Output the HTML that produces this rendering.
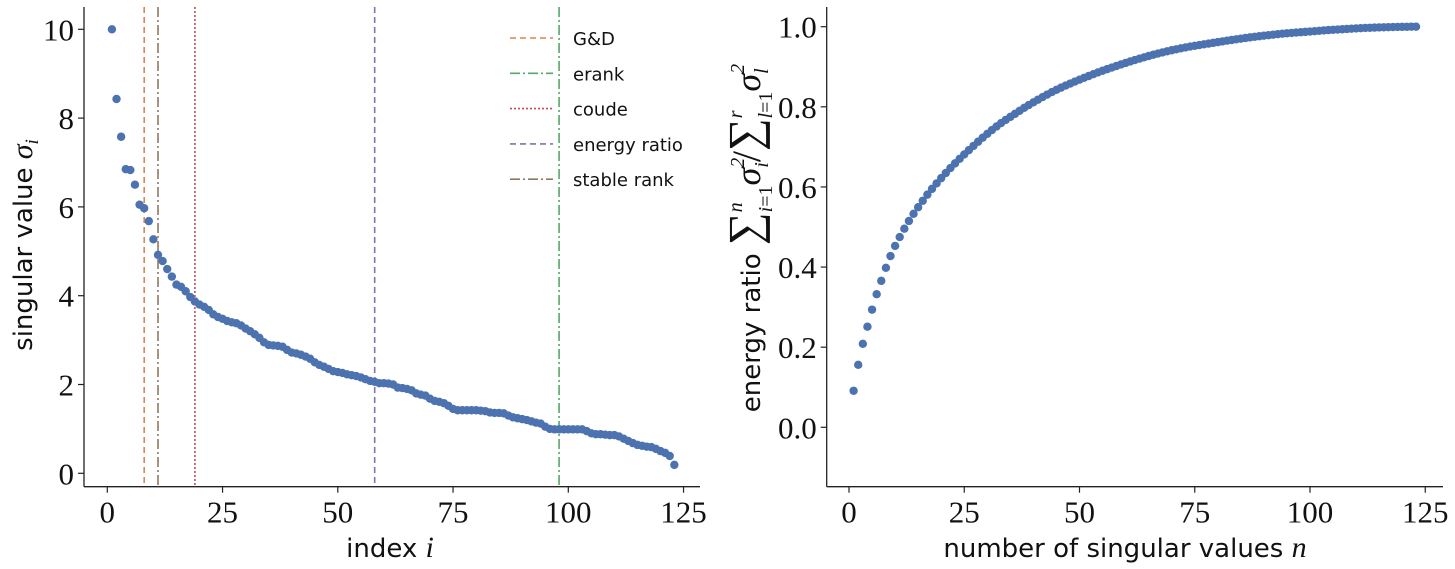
<!DOCTYPE html>
<html><head><meta charset="utf-8"><style>
body{margin:0;background:#fff;}
svg{display:block;}
.tick{font-family:"Liberation Serif",serif;font-size:31px;fill:#111;}
.lab{font-family:"DejaVu Sans","Liberation Sans",sans-serif;font-size:26px;fill:#111;}
.leg{font-family:"DejaVu Sans","Liberation Sans",sans-serif;font-size:18px;fill:#111;}
.m{font-family:"Liberation Serif",serif;font-style:italic;}
</style></head><body>
<svg id="c" width="1455" height="569" xmlns="http://www.w3.org/2000/svg"></svg>
<script>
const sigma=[10,8.43,7.58,6.85,6.83,6.5,6.05,5.97,5.68,5.27,4.92,4.78,4.6,4.43,4.25,4.2,4.1,3.97,3.87,
3.8,3.75,3.68,3.58,3.52,3.48,3.43,3.4,3.38,3.33,3.26,3.2,3.13,3.05,2.95,2.89,2.88,2.87,2.85,2.78,2.72,2.7,2.67,2.63,2.58,2.5,2.44,2.4,2.35,2.3,2.28,2.26,2.23,2.21,2.19,2.16,2.12,2.08,2.06,2.03,2.03,2.02,2.0,
1.93,1.92,1.9,1.87,1.8,1.77,1.75,1.68,1.63,1.61,1.58,1.52,1.45,
1.42,1.42,1.42,1.42,1.42,
1.41,1.4,1.37,1.36,1.36,1.35,1.3,1.26,1.24,1.22,1.2,1.17,1.14,1.12,
1.05,1.0,0.99,0.99,0.99,0.99,0.99,0.99,0.99,
0.95,0.9,0.88,0.88,0.87,0.86,0.86,0.83,0.78,0.73,0.68,0.64,0.62,0.6,0.59,0.55,0.5,0.46,0.39,0.19];
const vlineNames=["G&D","erank","coude","energy ratio","stable rank"];
const vlineIdx=[8,98,19,58,11];
const vlineColors=["#dd8452","#55a868","#c44e52","#8172b3","#937860"];
const vlineDash=["6,4","10,3,2,3","2,2","6,4","10,3,2,3"];
const xTicks=[0,25,50,75,100,125];
const yTicksL=[0,2,4,6,8,10];
const yTicksR=[0,0.2,0.4,0.6,0.8,1.0];

const svg=document.getElementById('c');
const NS="http://www.w3.org/2000/svg";
function el(t,a,p){const e=document.createElementNS(NS,t);for(const k in a)e.setAttribute(k,a[k]);(p||svg).appendChild(e);return e;}

const xL=v=>107.3+v*4.61, yL=v=>473.3-v*44.4;
const xR=v=>849+v*4.61, yR=v=>427.3-v*400.6;

function axes(x0,x1,y0,y1,xf,yf,yt,fmt,name){
  const g=el('g',{});
  
  
  el('line',{x1:x0,y1:y0,x2:x0,y2:y1,stroke:'#222','stroke-width':1.3},g);
  el('line',{x1:x0,y1:y1,x2:x1,y2:y1,stroke:'#222','stroke-width':1.3},g);
  xTicks.forEach(t=>{const x=xf(t);
    el('line',{x1:x,y1:y1,x2:x,y2:y1+6,stroke:'#222','stroke-width':1.2},g);
    const tx=el('text',{x:x,y:y1+36,'text-anchor':'middle',class:'tick'},g);tx.textContent=t;
    
    });
  yt.forEach(t=>{const y=yf(t);
    el('line',{x1:x0-6,y1:y,x2:x0,y2:y,stroke:'#222','stroke-width':1.2},g);
    const tx=el('text',{x:x0-10,y:y+11,'text-anchor':'end',class:'tick'},g);tx.textContent=fmt(t);
    
    });
}
axes(84,700,7,486.7,xL,yL,yTicksL,t=>t,'left-axes');
axes(826.7,1443,7,486.7,xR,yR,yTicksR,t=>t.toFixed(1),'right-axes');

vlineIdx.forEach((v,i)=>{
  const l=el('line',{x1:xL(v),y1:7,x2:xL(v),y2:486.7,stroke:vlineColors[i],'stroke-width':1.6,'stroke-dasharray':vlineDash[i]});
  
  
});
sigma.forEach((s,i)=>{
  const c=el('circle',{cx:xL(i+1),cy:yL(s),r:4.2,fill:'#4c72b0'});
  
  
});
const total=sigma.reduce((a,s)=>a+s*s,0);
let cum=0;
sigma.forEach((s,i)=>{cum+=s*s;
  const c=el('circle',{cx:xR(i+1),cy:yR(cum/total),r:4.2,fill:'#4c72b0'});
  
  
});
const lg=el('g',{});


vlineNames.forEach((n,i)=>{const y=38+i*35.3;
  el('line',{x1:510,y1:y,x2:553,y2:y,stroke:vlineColors[i],'stroke-width':1.6,'stroke-dasharray':vlineDash[i]},lg);
  const t=el('text',{x:573,y:y+7,class:'leg'},lg);t.textContent=n;
  
  
});
</script>
<svg style="position:absolute;left:0;top:0" width="1455" height="569" xmlns="http://www.w3.org/2000/svg">
<text x="390" y="557" text-anchor="middle" class="lab">index <tspan class="m" font-size="30">i</tspan></text>
<text transform="translate(32,245) rotate(-90)" text-anchor="middle" class="lab">singular value <tspan class="m" font-size="30">σ</tspan><tspan class="m" font-size="19" dy="6">i</tspan></text>
<text x="1125" y="557" text-anchor="middle" class="lab">number of singular values <tspan class="m" font-size="30">n</tspan></text>
<text transform="translate(760,238) rotate(-90)" text-anchor="middle" class="lab">energy ratio <tspan font-size="46" font-family="Liberation Serif">∑</tspan><tspan class="m" font-size="20" dy="-18">n</tspan><tspan class="m" font-size="20" dx="-10" dy="30">i</tspan><tspan font-size="20" font-family="Liberation Serif">=1</tspan><tspan class="m" font-size="36" dy="-12">σ</tspan><tspan class="m" font-size="20" dy="-16">2</tspan><tspan class="m" font-size="20" dx="-10" dy="24">i</tspan><tspan font-size="40" font-family="Liberation Serif" dy="-8">/</tspan><tspan font-size="46" font-family="Liberation Serif">∑</tspan><tspan class="m" font-size="20" dy="-18">r</tspan><tspan class="m" font-size="20" dx="-8" dy="30">l</tspan><tspan font-size="20" font-family="Liberation Serif">=1</tspan><tspan class="m" font-size="36" dy="-12">σ</tspan><tspan class="m" font-size="20" dy="-16">2</tspan><tspan class="m" font-size="20" dx="-10" dy="24">l</tspan></text>
</svg>
</body></html>
